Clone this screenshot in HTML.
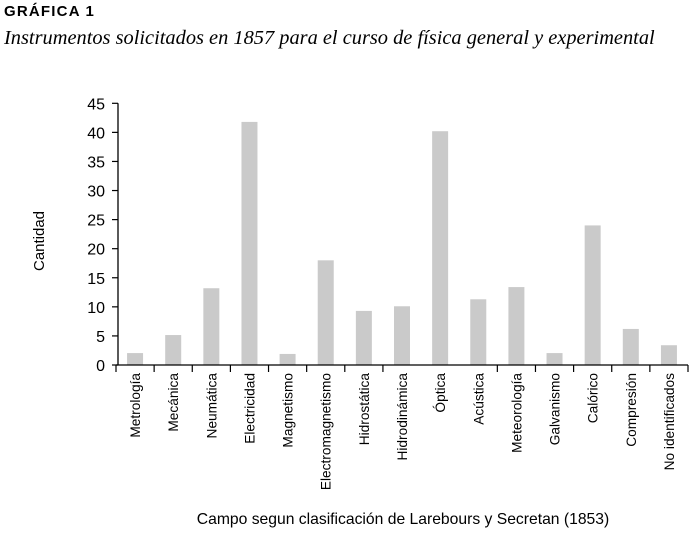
<!DOCTYPE html>
<html><head><meta charset="utf-8"><style>
body{margin:0;background:#fff;width:691px;height:531px;overflow:hidden;font-family:"Liberation Sans",sans-serif}
</style></head><body>
<svg width="691" height="531" xmlns="http://www.w3.org/2000/svg">
<text x="4" y="16" font-size="15" font-weight="bold" letter-spacing="1.2" font-family="Liberation Sans,sans-serif">GRÁFICA 1</text>
<text x="4" y="44" font-size="20.4" font-style="italic" font-family="Liberation Serif,serif">Instrumentos solicitados en 1857 para el curso de física general y experimental</text>
<text transform="translate(44,241) rotate(-90)" text-anchor="middle" font-size="15">Cantidad</text>
<text x="403" y="524" text-anchor="middle" font-size="15.7">Campo segun clasificación de Larebours y Secretan (1853)</text>
<g id="plot"></g>
</svg>
<script>
const categories=["Metrología","Mecánica","Neumática","Electricidad","Magnetismo","Electromagnetismo","Hidrostática","Hidrodinámica","Óptica","Acústica","Meteorología","Galvanismo","Calórico","Compresión","No identificados"];
const values=[2.05,5.15,13.2,41.8,1.9,18.0,9.3,10.1,40.2,11.3,13.4,2.05,24,6.2,3.4];
const yTicks=[0,5,10,15,20,25,30,35,40,45];
const NS="http://www.w3.org/2000/svg";
const g=document.getElementById('plot');
const x0=116,x1=688,y0=365,y45=103.3,n=categories.length,slot=(x1-x0)/n;
function y(v){return y0-(v/45)*(y0-y45);}
function xc(i){return x0+slot*(i+0.5);}
function el(t,a){const e=document.createElementNS(NS,t);for(const k in a)e.setAttribute(k,a[k]);g.appendChild(e);return e;}
values.forEach((v,i)=>{
 const r=el('rect',{x:xc(i)-8,y:y(v),width:16,height:y0-y(v),fill:'#cacaca'});
 
 
});
const ax=el('line',{x1:x0,y1:y0,x2:x1,y2:y0,stroke:'#000','stroke-width':1.3});


const ay=el('line',{x1:118,y1:y45,x2:118,y2:y0,stroke:'#000','stroke-width':1.3});


yTicks.forEach(t=>{
 el('line',{x1:112,y1:y(t),x2:118,y2:y(t),stroke:'#000','stroke-width':1.2});
 const tx=el('text',{x:105,y:y(t)+6,'text-anchor':'end','font-size':16});
 tx.textContent=t;
 
 
});
for(let i=0;i<=n;i++){
 if(i===8||i===9)continue;
 const xx=x0+slot*i;
 el('line',{x1:xx,y1:y0,x2:xx,y2:y0+7,stroke:'#000','stroke-width':1.2});
}
categories.forEach((c,i)=>{
 const tx=el('text',{transform:`translate(${xc(i)+5},373) rotate(-90)`,'text-anchor':'end','font-size':13.7});
 tx.textContent=c;
 
 
});
</script>
</body></html>
